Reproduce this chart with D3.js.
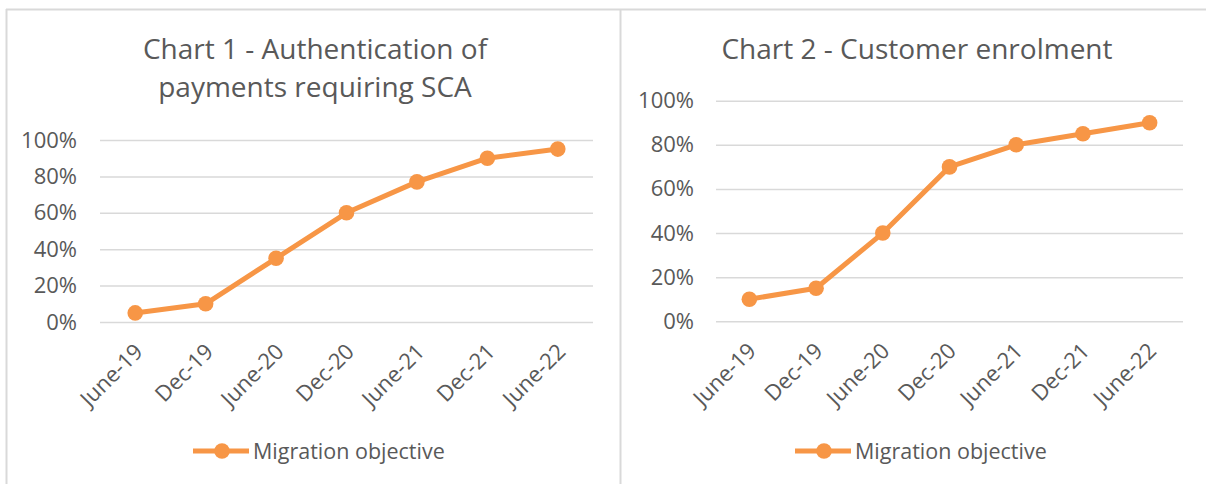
<!DOCTYPE html>
<html><head><meta charset="utf-8">
<script src="https://cdn.jsdelivr.net/npm/d3@7/dist/d3.min.js"></script>
<style>
html,body{margin:0;padding:0;background:#fff;}
svg{display:block;}
text{font-family:"Open Sans","Noto Sans",sans-serif;fill:#595959;}
</style></head>
<body>
<svg id="chart" width="1206" height="484"></svg>
<script>
const categories = ["June-19","Dec-19","June-20","Dec-20","June-21","Dec-21","June-22"];
const chart1Values = [0.05,0.10,0.35,0.60,0.77,0.90,0.95];
const chart2Values = [0.10,0.15,0.40,0.70,0.80,0.85,0.90];
const yTicks = [0,0.2,0.4,0.6,0.8,1.0];
const chart1Title = ["Chart 1 - Authentication of","payments requiring SCA"];
const chart2Title = ["Chart 2 - Customer enrolment"];
const seriesName = "Migration objective";

const ORANGE = "#F79646", GRID = "#D9D9D9", TEXT = "#595959";
const svg = d3.select("#chart");

// panel borders
svg.append("line").attr("x1",6).attr("x2",1206).attr("y1",9.5).attr("y2",9.5).attr("stroke",GRID).attr("stroke-width",2);
svg.append("line").attr("x1",6.5).attr("x2",6.5).attr("y1",9).attr("y2",484).attr("stroke",GRID).attr("stroke-width",2);
svg.append("line").attr("x1",620.5).attr("x2",620.5).attr("y1",9).attr("y2",484).attr("stroke",GRID).attr("stroke-width",2);

function drawChart(cfg){
  const g = svg.append("g");
  const x = d3.scaleBand().domain(categories).range([cfg.x0,cfg.x1]);
  const y = d3.scaleLinear().domain([0,1]).range([cfg.yBottom,cfg.yTop]);

  // title
  const t = g.append("text").attr("text-anchor","middle").style("font-size","28px");
  cfg.title.forEach((line,i)=>{
    t.append("tspan").attr("x",cfg.titleX).attr("y",59 + i*38).text(line);
  });

  // y axis gridlines + labels
  const yAxis = d3.axisLeft(y).tickValues(yTicks).tickFormat(d3.format(".0%"))
    .tickSize(-(cfg.x1-cfg.x0)).tickPadding(cfg.x0 - cfg.labelRight);
  const ya = g.append("g").attr("transform",`translate(${cfg.x0},0)`).call(yAxis);
  ya.select(".domain").remove();
  ya.selectAll(".tick line").attr("stroke",GRID).attr("stroke-width",1.5);
  ya.selectAll(".tick text").style("font-size","22px").attr("fill",TEXT).style("font-family",null);

  // x axis labels
  const xAxis = d3.axisBottom(x).tickSize(0).tickPadding(0);
  const xa = g.append("g").attr("transform",`translate(0,${cfg.yBottom})`).call(xAxis);
  xa.select(".domain").remove();
  xa.selectAll(".tick text").style("font-size","22px").attr("fill",TEXT).style("font-family",null)
    .attr("text-anchor","end").attr("dy",null).attr("y",null)
    .attr("transform",`translate(${cfg.xLabelDx},31) rotate(-45)`);

  // line
  const line = d3.line().x((d,i)=>x(categories[i])+x.bandwidth()/2).y(d=>y(d));
  g.append("path").datum(cfg.values).attr("d",line).attr("fill","none")
    .attr("stroke",ORANGE).attr("stroke-width",5).attr("stroke-linejoin","round");
  g.selectAll("circle.pt").data(cfg.values).enter().append("circle").attr("class","pt")
    .attr("cx",(d,i)=>x(categories[i])+x.bandwidth()/2).attr("cy",d=>y(d)).attr("r",7.8).attr("fill",ORANGE);

  // legend
  const lg = g.append("g").attr("transform",`translate(${cfg.legendX},451)`);
  lg.append("line").attr("x1",0).attr("x2",56).attr("y1",0).attr("y2",0).attr("stroke",ORANGE).attr("stroke-width",5);
  lg.append("circle").attr("cx",29).attr("cy",0).attr("r",7.8).attr("fill",ORANGE);
  lg.append("text").attr("x",60).attr("y",0).attr("dy","0.35em").style("font-size","21.5px").text(seriesName);
}

drawChart({x0:100,x1:593,yTop:140,yBottom:322,labelRight:77,values:chart1Values,
  title:chart1Title,titleX:315,legendX:193,xLabelDx:9});
drawChart({x0:716,x1:1183,yTop:100.7,yBottom:321.3,labelRight:694,values:chart2Values,
  title:chart2Title,titleX:917,legendX:795,xLabelDx:8});
</script>
</body></html>
